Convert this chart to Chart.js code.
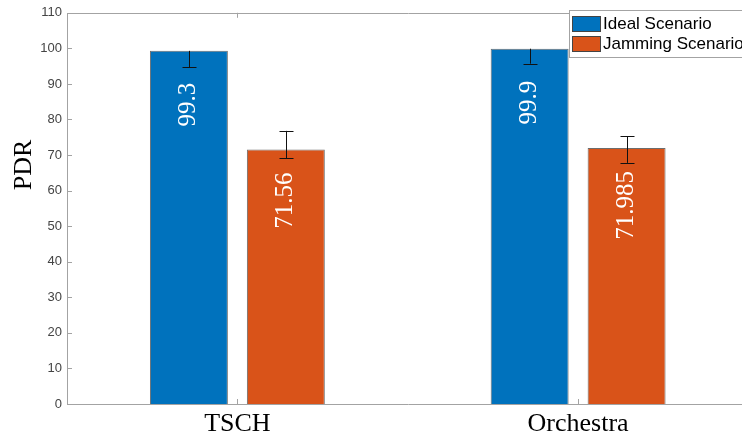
<!DOCTYPE html>
<html>
<head>
<meta charset="utf-8">
<script src="https://cdn.jsdelivr.net/npm/chart.js@4/dist/chart.umd.min.js"></script>
<style>
  html, body { margin: 0; padding: 0; background: #fff; overflow: hidden; }
  #wrap { width: 750px; height: 433px; }
</style>
</head>
<body>
<div id="wrap"><canvas id="pdrChart" width="750" height="433"></canvas></div>
<script>
// --- PDR per scheduling function, ideal vs. jamming ---
const categories = ['TSCH', 'Orchestra'];
const seriesNames = ['Ideal Scenario', 'Jamming Scenario'];

const idealPdr = [99.3, 99.9];
const jammingPdr = [71.56, 71.985];

// error bar extents (null = no upper whisker)
const idealLow = [94.7, 95.7];
const idealHigh = [null, null];
const jammingLow = [69.1, 67.8];
const jammingHigh = [76.8, 75.3];

const yTicks = [0, 10, 20, 30, 40, 50, 60, 70, 80, 90, 100, 110];

const colorIdeal = '#0072BD';
const colorJamming = '#D95319';
const axisGray = '#a3a3a3';

// frame, inward ticks, error bars, bar labels, axis texts and legend
const decorations = {
    id: 'decorations',
    afterDatasetsDraw(chart) {
        const { ctx, chartArea: a, scales: { x, y } } = chart;
        ctx.save();

        // axis box
        ctx.strokeStyle = axisGray;
        ctx.lineWidth = 1;
        ctx.beginPath();
        ctx.rect(Math.round(a.left) + 0.5, Math.round(a.top) + 0.5,
                 Math.round(a.right - a.left), Math.round(a.bottom - a.top));
        ctx.stroke();

        // y ticks pointing inward
        ctx.beginPath();
        yTicks.forEach(v => {
            const py = Math.round(y.getPixelForValue(v)) + 0.5;
            ctx.moveTo(a.left, py); ctx.lineTo(a.left + 5, py);
            ctx.moveTo(a.right, py); ctx.lineTo(a.right - 5, py);
        });
        categories.forEach((c, i) => {
            const px = Math.round(x.getPixelForValue(i)) + 0.5;
            ctx.moveTo(px, a.bottom); ctx.lineTo(px, a.bottom - 5);
            ctx.moveTo(px, a.top); ctx.lineTo(px, a.top + 5);
        });
        ctx.stroke();

        // error bars
        const lows = [idealLow, jammingLow];
        const highs = [idealHigh, jammingHigh];
        ctx.strokeStyle = '#111';
        ctx.lineWidth = 1;
        chart.data.datasets.forEach((ds, di) => {
            chart.getDatasetMeta(di).data.forEach((bar, j) => {
                const cx = Math.round(bar.x) + 0.5;
                const top = highs[di][j] != null ? y.getPixelForValue(highs[di][j]) : bar.y;
                const bot = y.getPixelForValue(lows[di][j]);
                ctx.beginPath();
                ctx.moveTo(cx, top); ctx.lineTo(cx, bot);
                ctx.moveTo(cx - 7, Math.round(bot) + 0.5); ctx.lineTo(cx + 7, Math.round(bot) + 0.5);
                if (highs[di][j] != null) {
                    ctx.moveTo(cx - 7, Math.round(top) + 0.5); ctx.lineTo(cx + 7, Math.round(top) + 0.5);
                }
                ctx.stroke();
            });
        });

        // value labels inside the bars, rotated
        const labelGap = [32, 23];
        ctx.fillStyle = '#fff';
        ctx.font = '25px "Liberation Serif", "Times New Roman", serif';
        ctx.textAlign = 'right';
        ctx.textBaseline = 'middle';
        chart.data.datasets.forEach((ds, di) => {
            chart.getDatasetMeta(di).data.forEach((bar, j) => {
                ctx.save();
                ctx.translate(bar.x, bar.y + labelGap[di]);
                ctx.rotate(-Math.PI / 2);
                ctx.fillText(String(ds.data[j]), 0, 0);
                ctx.restore();
            });
        });

        // category labels
        ctx.fillStyle = '#000';
        ctx.font = '26px "Liberation Serif", "Times New Roman", serif';
        ctx.textAlign = 'center';
        ctx.textBaseline = 'alphabetic';
        categories.forEach((c, i) => {
            ctx.fillText(c, x.getPixelForValue(i), 431);
        });

        // y axis title
        ctx.save();
        ctx.translate(31, 165);
        ctx.rotate(-Math.PI / 2);
        ctx.textAlign = 'center';
        ctx.fillText('PDR', 0, 0);
        ctx.restore();

        // legend box in the upper right corner
        const lx = 569.5, ly = 10.5;
        ctx.fillStyle = '#fff';
        ctx.fillRect(lx, ly, 200, 47);
        ctx.strokeStyle = axisGray;
        ctx.strokeRect(lx, ly, 200, 47);
        ctx.font = '17px "Liberation Sans", Arial, sans-serif';
        ctx.textAlign = 'left';
        ctx.textBaseline = 'middle';
        chart.data.datasets.forEach((ds, di) => {
            const ry = 16 + di * 20;
            ctx.fillStyle = ds.backgroundColor;
            ctx.fillRect(572, ry, 29, 15);
            ctx.strokeStyle = '#444';
            ctx.strokeRect(572.5, ry + 0.5, 28, 15);
            ctx.fillStyle = '#000';
            ctx.fillText(ds.label, 603, ry + 8);
        });

        ctx.restore();
    }
};

new Chart(document.getElementById('pdrChart'), {
    type: 'bar',
    data: {
        labels: categories,
        datasets: [
            {
                label: seriesNames[0],
                data: idealPdr,
                backgroundColor: colorIdeal,
                borderColor: 'rgba(60, 60, 60, 0.75)',
                borderWidth: 1,
                categoryPercentage: 0.569,
                barPercentage: 0.804
            },
            {
                label: seriesNames[1],
                data: jammingPdr,
                backgroundColor: colorJamming,
                borderColor: 'rgba(60, 60, 60, 0.75)',
                borderWidth: 1,
                categoryPercentage: 0.569,
                barPercentage: 0.804
            }
        ]
    },
    options: {
        responsive: false,
        animation: false,
        layout: { padding: { top: 12, right: 1.5, bottom: 29, left: 0 } },
        plugins: {
            legend: { display: false },
            tooltip: { enabled: false }
        },
        scales: {
            x: {
                offset: true,
                grid: { display: false, drawTicks: false },
                border: { display: false },
                ticks: { display: false }
            },
            y: {
                min: 0,
                max: 110,
                afterFit(scale) { scale.width = 67; },
                afterBuildTicks(scale) { scale.ticks = yTicks.map(v => ({ value: v })); },
                grid: { display: false, drawTicks: false },
                border: { display: false },
                ticks: {
                    padding: 5,
                    color: '#444',
                    font: { family: '"Liberation Sans", Arial, sans-serif', size: 13 }
                }
            }
        }
    },
    plugins: [decorations]
});
</script>
</body>
</html>
